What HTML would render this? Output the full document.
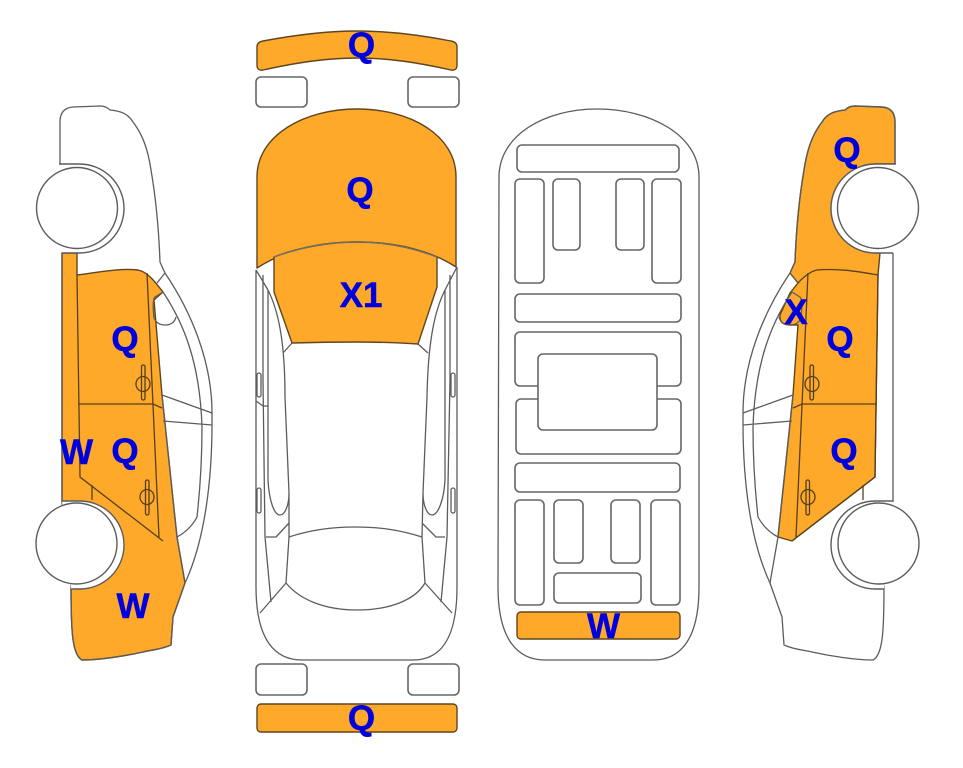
<!DOCTYPE html>
<html>
<head>
<meta charset="utf-8">
<style>
html,body{margin:0;padding:0;background:#fff}
svg{display:block}
text{font-family:"Liberation Sans",sans-serif;font-weight:bold;font-size:35px;fill:#0000dc;stroke:#0000dc;stroke-width:.5;text-anchor:middle}
.o{fill:#ffa92b;stroke:#5f4520;stroke-width:1.4;stroke-linejoin:round}
.l{fill:none;stroke:#5c5c5c;stroke-width:1.3;stroke-linejoin:round}
.w{fill:#fff;stroke:#5c5c5c;stroke-width:1.4}
.r{fill:#fff;stroke:#666;stroke-width:1.6}
.d{fill:none;stroke:#54401e;stroke-width:1.3}
</style>
</head>
<body>
<svg width="963" height="768" viewBox="0 0 963 768" xmlns="http://www.w3.org/2000/svg">
<rect width="963" height="768" fill="#fff"/>

<!-- orange: left side -->
<path class="o" d="M62,253 H77 L77,275 C100,272 120,268 138,270 C148,272 155,282 163,292 L154,300 L162,395 L177,537 L185,583 L173,617 L171,645 C160,650 150,650 143,652 C125,656 100,660 82,660 C72,655 71,630 71,585 L62,502 Z"/>
<!-- orange: right side -->
<path class="o" d="M790,273 L795,262 C796,235 798,205 804,170 C807,150 812,135 822,122 C828,112 837,111 845,110 Q849,106 855,106 L882,107 Q895,108 895,122 V164 H875.500 A44.500,44.500 0 0 0 875.500,253 H880 L878,275 L875,477 L792,541 L778,537 L793,395 L798,325 L790,325 Q779,325 780,315 L790,293 L798,283 Z"/>

<!-- shared side-view linework -->
<defs>
<g id="side">
<path class="l" d="M60,165 L60,122 Q60,108 73,107 L100,106 Q106,106 110,110 C118,111 127,112 133,122 C143,135 148,150 151,170 C157,205 159,235 160,262 L165,273 C190,310 212,360 212,413 L212,423 C212,480 205,540 185,583 L173,617 L171,645 C160,650 150,650 143,652 C125,656 100,660 82,660 C72,655 71,630 71,585"/>
<path class="l" d="M165,273 L157,283 M163,292 C185,325 200,365 202,427 C202,460 200,490 197,517 Q190,530 177,537 M162,395 L212,413 M163,421 L212,425 M62,253 V502 M162,395 L177,537 L185,583"/>
<path class="l" d="M163,292 L155,297 Q152,300 154,318 Q157,325 165,325 Q174,325 176,317"/>
<path class="d" d="M77,275 L80,477 L163,541 M147,273 L159,537 M78,404 H153 L162,408 M92,485 V500"/>
<rect class="d" x="141.500" y="365" width="3.500" height="35" rx="1.700"/>
<ellipse class="d" cx="143" cy="384" rx="7" ry="7.500"/>
<rect class="d" x="145.500" y="480" width="3.500" height="35" rx="1.700"/>
<ellipse class="d" cx="147" cy="497" rx="7" ry="7.500"/>
<path class="w" d="M59,164 H79.500 A44.500,44.500 0 0 1 79.500,253 H62"/>
<path class="w" d="M62,501 H80 A44,44 0 0 1 80,589 H71"/>
<circle class="w" cx="77" cy="208" r="40.500"/>
<circle class="w" cx="76.500" cy="543.500" r="40.500"/>
</g>
</defs>
<use href="#side"/>
<use href="#side" transform="translate(955,0) scale(-1,1)"/>
<path class="d" d="M798,283 Q808,272 817,270 C840,268 860,272 878,275"/>

<!-- top view -->
<path class="o" d="M257,47 Q257,42 263,41 C295,35 325,31 357,31 C390,31 420,35 451,41 Q457,42 457,47 V65 Q457,71 451,70 C420,63 390,58 357,58 C325,58 295,63 263,70 Q257,71 257,65 Z"/>
<rect class="r" x="256" y="77" width="51" height="30" rx="5"/>
<rect class="r" x="408" y="77" width="51" height="30" rx="5"/>
<path class="l" d="M256,270 V587 C256,640 275,660 302,660 H413 C440,660 457,640 457,587 V267"/>
<path class="l" d="M263,275 V380 L265,537 L271,602 M268,290 V480 C269,500 274,515 280,515 C285,515 289,505 289,493 M268,290 C278,310 285,340 285,397 L289,493 L289,537 L286,583 L260,613 M283,353 L292,343 M286,583 C300,600 325,610 357,610 C390,610 415,600 425,583 M289,537 C310,530 330,527 355,527 C380,527 400,530 422,537 M266,537 H276 L289,523 M256,401 L263,406 H268 M256,270 L268,290"/>
<path class="l" d="M450,275 V380 L447,537 L441,602 M445,290 V480 C444,500 438,515 432,515 C427,515 423,505 423,493 M445,290 C435,310 428,340 427,397 L423,493 L422,537 L425,583 L452,613 M428,353 L418,344 M445,537 H436 L422,523 M457,267 L445,290"/>
<rect class="l" x="257" y="373" width="4" height="24" rx="2"/>
<rect class="l" x="257" y="488" width="4" height="25" rx="2"/>
<rect class="l" x="451" y="373" width="4" height="24" rx="2"/>
<rect class="l" x="451" y="488" width="4" height="25" rx="2"/>
<path class="o" d="M257,268 V177 C257,135 305,109 357,109 C410,109 456,135 456,177 V267 C430,250 395,242 357,242 C320,242 285,250 257,268 Z"/>
<path class="o" d="M274,257 C300,247 330,242 357,242 C385,242 412,247 437,257 L437,287 L418,344 Q385,342 357,342 Q325,342 292,343 L274,292 Z"/>
<path d="M274,257 C300,247 330,242 357,242 C385,242 412,247 437,257" fill="none" stroke="#6f6f6f" stroke-width="1.300"/>
<rect class="r" x="256" y="664" width="51" height="31" rx="5"/>
<rect class="r" x="408" y="664" width="51" height="31" rx="5"/>
<rect class="o" x="257" y="704" width="200" height="28" rx="4"/>

<!-- bottom view -->
<path class="l" d="M499,177 C499,135 545,109 597,109 C650,109 699,135 699,177 V587 C699,640 680,660 653,660 H545 C518,660 498,640 498,587 Z"/>
<g class="r">
<rect class="r" x="517" y="145" width="162" height="27" rx="5"/>
<rect class="r" x="515" y="179" width="29" height="104" rx="5"/>
<rect class="r" x="553" y="179" width="27" height="71" rx="5"/>
<rect class="r" x="616" y="179" width="28" height="71" rx="5"/>
<rect class="r" x="652" y="179" width="29" height="104" rx="5"/>
<rect class="r" x="515" y="294" width="166" height="28" rx="5"/>
<rect class="r" x="515" y="332" width="166" height="54" rx="5"/>
<rect class="r" x="516" y="399" width="165" height="55" rx="5"/>
<rect class="r" x="538" y="354" width="119" height="76" rx="5"/>
<rect class="r" x="515" y="463" width="165" height="29" rx="5"/>
<rect class="r" x="515" y="500" width="29" height="105" rx="5"/>
<rect class="r" x="554" y="500" width="29" height="63" rx="5"/>
<rect class="r" x="611" y="500" width="29" height="63" rx="5"/>
<rect class="r" x="651" y="500" width="29" height="105" rx="5"/>
<rect class="r" x="554" y="573" width="87" height="30" rx="5"/>
</g>
<rect class="o" x="517" y="612" width="163" height="27" rx="4"/>

<!-- labels -->
<text x="361.500" y="57">Q</text>
<text x="360" y="202">Q</text>
<text x="361" y="307">X1</text>
<text x="361.500" y="730">Q</text>
<text x="603.500" y="638">W</text>
<text x="125" y="351">Q</text>
<text x="125" y="463">Q</text>
<text x="76.500" y="464">W</text>
<text x="133" y="618">W</text>
<text x="847" y="162">Q</text>
<text x="796" y="324">X</text>
<text x="840" y="351">Q</text>
<text x="844" y="463">Q</text>
</svg>
</body>
</html>
